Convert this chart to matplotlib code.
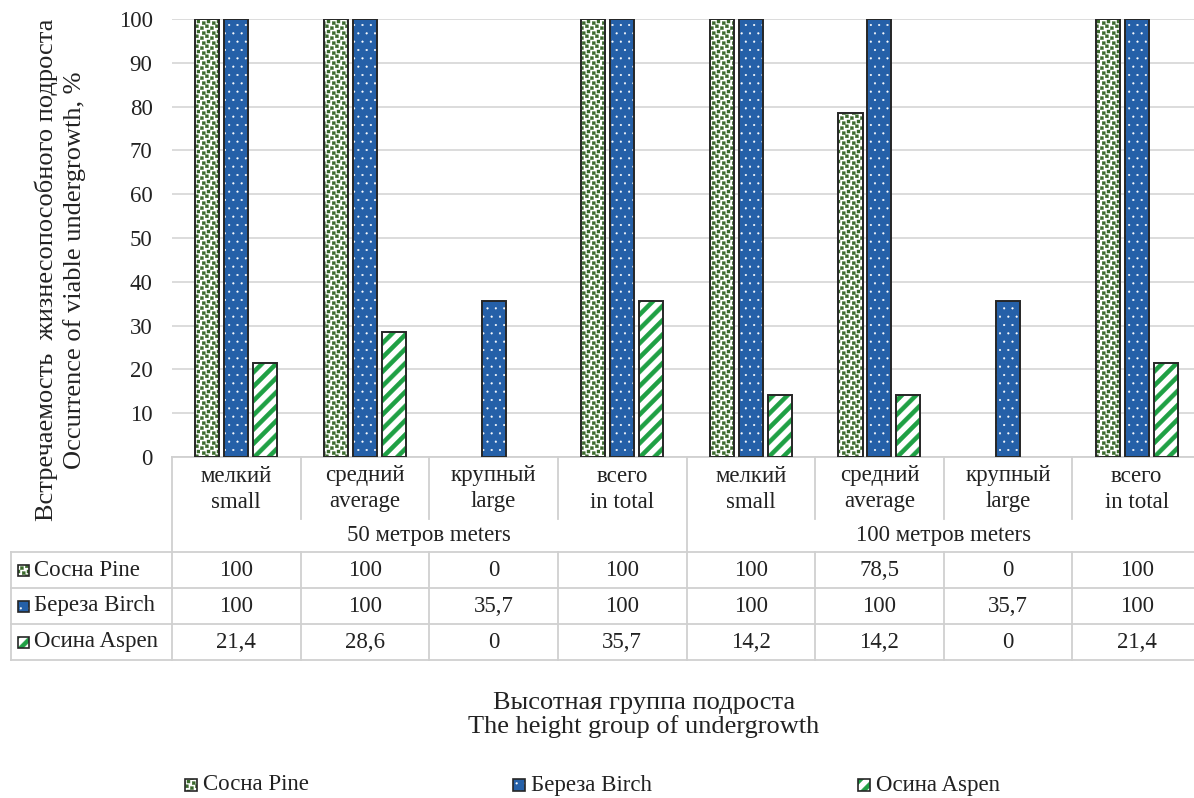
import numpy as np
import matplotlib
matplotlib.use("Agg")
import matplotlib.pyplot as plt
import matplotlib.transforms as mtrans
from matplotlib import hatch as mhatch
from matplotlib.lines import Line2D
from matplotlib.patches import Rectangle
from matplotlib.path import Path

# ---------------------------------------------------------------- data
groups_ru = ["мелкий", "средний", "крупный", "всего"] * 2
groups_en = ["small", "average", "large", "in total"] * 2
distances = ["50 метров meters", "100 метров meters"]
series_names = ["Сосна Pine", "Береза Birch", "Осина Aspen"]
pine = [100, 100, 0, 100, 100, 78.5, 0, 100]
birch = [100, 100, 35.7, 100, 100, 100, 35.7, 100]
aspen = [21.4, 28.6, 0, 35.7, 14.2, 14.2, 0, 21.4]
y_ticks = [0, 10, 20, 30, 40, 50, 60, 70, 80, 90, 100]

y_title = "Встречаемость  жизнесопособного подроста\nOccurrence of viable undergrowth, %"
x_title = "Высотная группа подроста\nThe height group of undergrowth"


# ------------------------------------------------------- custom fills
class SquareConfetti(mhatch.HatchPatternBase):
    """Scattered filled squares (selected with '*')."""
    cells = 10
    spots = [(0.04, 0.04), (0.54, 0.22), (0.22, 0.54), (0.70, 0.70)]
    size = 0.30

    def __init__(self, hatch, density):
        n = self.cells ** 2 * len(self.spots) if "*" in hatch else 0
        self.num_vertices = n * 5

    def set_vertices_and_codes(self, vertices, codes):
        step = 1.0 / self.cells
        s = self.size * step
        unit = np.array([[0, 0], [s, 0], [s, s], [0, s], [0, 0]], float)
        code = [Path.MOVETO, Path.LINETO, Path.LINETO, Path.LINETO, Path.CLOSEPOLY]
        k = 0
        for i in range(self.cells):
            for j in range(self.cells):
                for dx, dy in self.spots:
                    vertices[k:k + 5] = unit + [(i + dx) * step, (j + dy) * step]
                    codes[k:k + 5] = code
                    k += 5


class DiagonalBands(mhatch.HatchPatternBase):
    """Thick '/' stripes (selected with 'O')."""
    bands = 7
    thickness = 0.058

    def __init__(self, hatch, density):
        self.num_vertices = (2 * self.bands + 2) * 5 if "O" in hatch else 0

    def set_vertices_and_codes(self, vertices, codes):
        t = self.thickness
        code = [Path.MOVETO, Path.LINETO, Path.LINETO, Path.LINETO, Path.CLOSEPOLY]
        k = 0
        for m in range(-self.bands - 1, self.bands + 1):
            c = m / self.bands
            vertices[k:k + 5] = [(0, c), (1, 1 + c), (1, 1 + c + t), (0, c + t), (0, c)]
            codes[k:k + 5] = code
            k += 5


mhatch._hatch_types = [h for h in mhatch._hatch_types
                       if h not in (mhatch.Stars, mhatch.LargeCircles)]
mhatch._hatch_types += [SquareConfetti, DiagonalBands]

plt.rcParams["font.family"] = ["Liberation Serif", "DejaVu Serif"]
plt.rcParams["hatch.linewidth"] = 0.3

# series styles: face, hatch colour, hatch pattern
styles = [
    ("white", "#3b6a2c", "*"),
    ("#2560a8", "white", ".."),
    ("white", "#1fa044", "O"),
]
edge = "#262626"
grid_c = "#d9d9d9"
table_c = "#d0d0d0"
txt_c = "#222222"
fs = 16.5
title_fs = 19

W, H = 1194, 798
fig = plt.figure(figsize=(W / 100, H / 100), dpi=100)

left_px, right_px, top_px, base_px = 172, 1201, 19, 457
ax = fig.add_axes([left_px / W, 1 - base_px / H,
                   (right_px - left_px) / W, (base_px - top_px) / H])

n = len(groups_ru)
x = np.arange(n) + 0.5
bw = 0.187
offs = [-0.225, 0.0, 0.225]
values = [pine, birch, aspen]

for vals, (face, hcol, hp), off in zip(values, styles, offs):
    ax.bar(x + off, vals, bw, color=face, edgecolor=hcol, linewidth=0, hatch=hp, zorder=2)
    ecols = [edge if v > 0 else "none" for v in vals]
    ax.bar(x + off, vals, bw, fill=False, edgecolor=ecols, linewidth=1.4, zorder=3)

ax.set_xlim(0, n)
ax.set_ylim(0, 100)
ax.set_yticks(y_ticks)
ax.set_xticks([])
ax.tick_params(axis="y", length=0, pad=14, labelsize=fs, labelcolor=txt_c)
ax.yaxis.grid(True, color=grid_c, linewidth=1.3, zorder=0)
ax.set_axisbelow(True)
for sp in ["left", "right", "top"]:
    ax.spines[sp].set_visible(False)
ax.spines["bottom"].set_color(table_c)
ax.spines["bottom"].set_linewidth(1.3)

# ---------------------------------------------------------- data table
def fy(py):
    return 1 - py / H


def fx(px):
    return px / W


blend = mtrans.blended_transform_factory(ax.transData, fig.transFigure)


def hline(x0, x1, py, trans=fig.transFigure):
    fig.add_artist(Line2D([x0, x1], [fy(py), fy(py)], transform=trans,
                          color=table_c, linewidth=1.3))


def vline(xd, py0, py1, trans=blend):
    fig.add_artist(Line2D([xd, xd], [fy(py0), fy(py1)], transform=trans,
                          color=table_c, linewidth=1.3))


row_lines = [552, 588, 624, 660]
for py in row_lines:
    hline(fx(11), fx(1205), py)
vline(fx(11), 552, 660, trans=fig.transFigure)
for b in range(n + 1):
    if b % 4 == 0:
        vline(b, base_px, 660)
    else:
        vline(b, base_px, 519)
        vline(b, 552, 660)

for i in range(n):
    fig.text(x[i], fy(476), groups_ru[i], transform=blend, ha="center", va="center",
             fontsize=fs, color=txt_c)
    fig.text(x[i], fy(502), groups_en[i], transform=blend, ha="center", va="center",
             fontsize=fs, color=txt_c)
for k, name in enumerate(distances):
    fig.text(4 * k + 2, fy(535), name, transform=blend, ha="center", va="center",
             fontsize=fs, color=txt_c)


def fmt(v):
    return str(int(v)) if float(v).is_integer() else f"{v}".replace(".", ",")


def key(px, py, size, style):
    face, hcol, hp = style
    fig.add_artist(Rectangle((fx(px), fy(py + size / 2)), size / W, size / H,
                             transform=fig.transFigure, facecolor=face,
                             edgecolor=hcol, linewidth=0, hatch=hp))
    fig.add_artist(Rectangle((fx(px), fy(py + size / 2)), size / W, size / H,
                             transform=fig.transFigure, fill=False,
                             edgecolor=edge, linewidth=1.2))


row_centers = [570, 606, 642]
for r, (name, vals, style) in enumerate(zip(series_names, values, styles)):
    cy = row_centers[r]
    key(18, cy, 11, style)
    fig.text(fx(34), fy(cy), name, ha="left", va="center", fontsize=fs, color=txt_c)
    for i, v in enumerate(vals):
        fig.text(x[i], fy(cy), fmt(v), transform=blend, ha="center", va="center",
                 fontsize=fs, color=txt_c)

# ---------------------------------------------------------- titles
fig.text(fx(60), fy(270), y_title, rotation=90, ha="center", va="center",
         fontsize=title_fs, color=txt_c, linespacing=1.27)
fig.text(fx(644), fy(715), x_title, ha="center", va="center",
         fontsize=title_fs, color=txt_c, linespacing=1.1)

# ---------------------------------------------------------- legend
legend_x = [185, 513, 858]
for px, name, style in zip(legend_x, series_names, styles):
    key(px, 785, 12, style)
    fig.text(fx(px + 18), fy(785), name, ha="left", va="center", fontsize=fs, color=txt_c)

fig.savefig("out.png", dpi=100)
